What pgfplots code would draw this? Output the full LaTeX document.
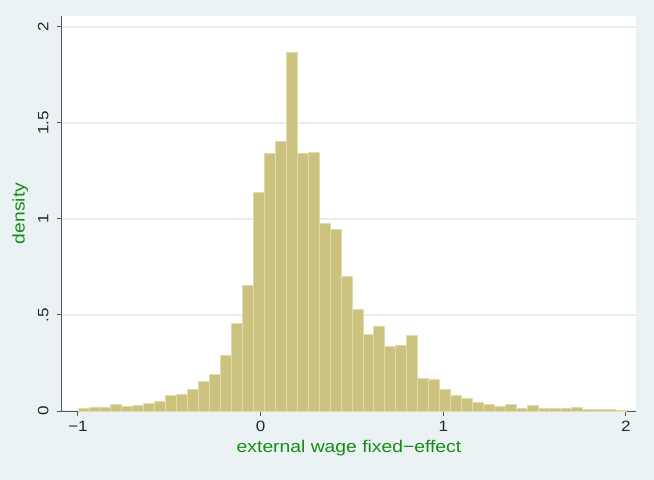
\documentclass[border=0pt]{standalone}
\usepackage{pgfplots}
\pgfplotsset{compat=1.18}
\usepackage{fontspec}
\setmainfont{Liberation Sans}
\newfontfamily\sfont[FakeStretch=1.14]{Liberation Sans}
\definecolor{bg}{RGB}{234,242,243}
\definecolor{gridc}{RGB}{230,238,240}
\definecolor{barfill}{RGB}{202,194,126}
\definecolor{baredge}{RGB}{226,220,172}
\definecolor{labgreen}{RGB}{22,140,22}
\definecolor{axc}{RGB}{85,85,85}
\begin{document}
\begin{tikzpicture}
\fill[bg] (-62bp,-69bp) rectangle (592bp,411bp);
\useasboundingbox (-62bp,-69bp) rectangle (592bp,411bp);
\begin{axis}[
 at={(0,0)}, anchor=south west,
 scale only axis, width=574bp, height=395bp,
 xmin=-1.0876, xmax=2.055, ymin=0, ymax=2.057,
 axis x line*=bottom, axis y line*=left,
 axis line style={axc, line width=1bp, -},
 axis background/.style={fill=white},
 xtick={-1,0,1,2}, xticklabels={−1,0,1,2},
 ytick={0,0.5,1,1.5,2}, yticklabels={0,.5,1,1.5,2},
 tick align=outside, major tick length=5bp,
 tick style={axc, line width=1bp},
 minor tick num=0,
 ymajorgrids, grid style={gridc, line width=1.2bp},
 tick label style={font=\sfont\fontsize{15}{15}\selectfont, text=black!85},
 xticklabel style={yshift=-2bp},
 yticklabel style={xshift=-5bp, rotate=90, anchor=south},
 xlabel={external wage fixed−effect}, ylabel={density},
 label style={font=\sfont\fontsize{17}{17}\selectfont, text=labgreen},
 xlabel style={at={(axis description cs:0.5,-0.1046)}, anchor=base},
 ylabel style={at={(axis description cs:-0.065,0.5)}, anchor=base},
]
\addplot[ybar interval, fill=barfill, draw=baredge, line width=0.8bp] table {
x y
-1.00 0.011
-0.94 0.021
-0.88 0.021
-0.82 0.036
-0.76 0.026
-0.70 0.030
-0.64 0.041
-0.58 0.051
-0.52 0.083
-0.46 0.088
-0.40 0.114
-0.34 0.152
-0.28 0.192
-0.22 0.291
-0.16 0.455
-0.10 0.655
-0.04 1.136
0.02 1.341
0.08 1.404
0.14 1.868
0.20 1.341
0.26 1.348
0.32 0.976
0.38 0.944
0.44 0.699
0.50 0.531
0.56 0.397
0.62 0.443
0.68 0.334
0.74 0.341
0.80 0.392
0.86 0.169
0.92 0.162
0.98 0.113
1.04 0.082
1.10 0.064
1.16 0.047
1.22 0.036
1.28 0.026
1.34 0.035
1.40 0.015
1.46 0.027
1.52 0.014
1.58 0.014
1.64 0.014
1.70 0.017
1.76 0.010
1.82 0.009
1.88 0.009
1.94 0.005
2.00 0
};
\end{axis}
\end{tikzpicture}
\end{document}
